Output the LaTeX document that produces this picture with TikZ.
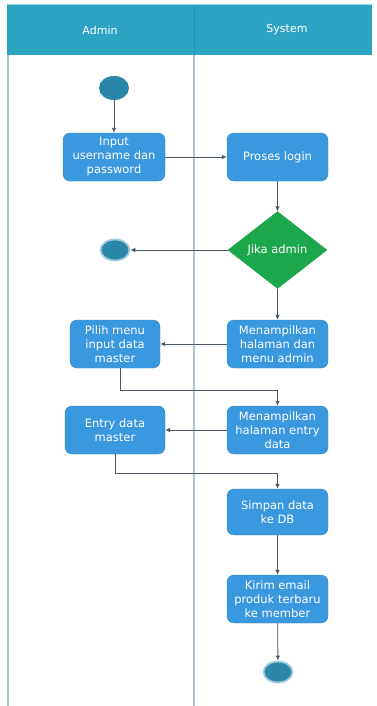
\documentclass[tikz,border=0pt]{standalone}
\usepackage{fontspec}
\setmainfont{DejaVu Sans}
\usetikzlibrary{shapes.geometric,arrows.meta}

\definecolor{lanehead}{HTML}{2DA3C2}
\definecolor{laneheadtop}{HTML}{8FDDEB}
\definecolor{lanesep}{HTML}{2590AD}
\definecolor{laneline}{HTML}{A9C3CB}
\definecolor{actfill}{HTML}{3A98DE}
\definecolor{actdraw}{HTML}{2F86C8}
\definecolor{decfill}{HTML}{1DA74D}
\definecolor{dotfill}{HTML}{2A87A8}
\definecolor{ringcol}{HTML}{A3CBDD}
\definecolor{flow}{HTML}{4B5966}

\begin{document}
\begin{tikzpicture}[x=1pt,y=-1pt,
  txt/.style={text=white,font=\fontsize{11.5}{14}\selectfont},
  act/.style={txt,draw=actdraw,fill=actfill,rounded corners=7pt,
    align=center,minimum height=48pt,inner sep=1pt},
  decision/.style={txt,diamond,draw=decfill,fill=decfill,
    minimum width=99pt,minimum height=77pt,inner sep=0pt},
  initial/.style={ellipse,fill=dotfill,minimum width=30pt,minimum height=24pt,inner sep=0pt},
  final/.style={ellipse,fill=dotfill,draw=ringcol,line width=1.8pt,
    minimum width=29pt,minimum height=21pt,inner sep=0pt},
  flowline/.style={draw=flow,line width=0.8pt,-{Latex[length=5pt,width=4.5pt]}},
  lane/.style={draw=laneline,line width=1.4pt},
  headtext/.style={text=white,font=\fontsize{11}{13}\selectfont}
]
% canvas
\fill[white] (0,0) rectangle (376,706);
\useasboundingbox (0,0) rectangle (376,706);

% swimlane header and lane borders
\fill[lanehead] (7,5) rectangle (372,55);
\draw[laneheadtop,line width=1pt] (7,5) -- (372,5);
\draw[lanesep,line width=0.8pt] (194,5) -- (194,55);
\draw[lane] (8,55) -- (8,706);
\draw[lane] (194,55) -- (194,706);
\node[headtext] (hadmin) at (100,30) {Admin};
\node[headtext] (hsystem) at (287,30) {System};

% activities
\node[initial] (start) at (114,88) {};
\node[act,minimum width=102pt] (input) at (114,157) {Input\\username dan\\password};
\node[act,minimum width=101pt] (login) at (277.5,157) {Proses login};
\node[decision] (dec) at (277.5,250) {Jika admin};
\node[final] (endA) at (115,250) {};
\node[act,minimum width=101pt] (show1) at (277.5,344) {Menampilkan\\halaman dan\\menu admin};
\node[act,minimum width=90pt] (pilih) at (115,344) {Pilih menu\\input data\\master};
\node[act,minimum width=101pt] (show2) at (277.5,430) {Menampilkan\\halaman entry\\data};
\node[act,minimum width=100pt] (entry) at (115,430) {Entry data\\master};
\node[act,minimum width=101pt,minimum height=46pt] (simpan) at (277.5,512) {Simpan data\\ke DB};
\node[act,minimum width=101pt] (kirim) at (277.5,599) {Kirim email\\produk terbaru\\ke member};
\node[final] (endB) at (278,672) {};

% control flow
\draw[flowline] (start) -- (input);
\draw[flowline] (input) -- (login);
\draw[flowline] (login) -- (dec);
\draw[flowline] (dec) -- (endA);
\draw[flowline] (dec) -- (show1);
\draw[flowline] (show1) -- (pilih);
\draw[flowline] ([xshift=5pt]pilih.south) -- ++(0,22) -| (show2.north);
\draw[flowline] (show2) -- (entry);
\draw[flowline] (entry.south) -- ++(0,19) -| (simpan.north);
\draw[flowline] (simpan) -- (kirim);
\draw[flowline] (kirim) -- (endB);
\end{tikzpicture}
\end{document}
